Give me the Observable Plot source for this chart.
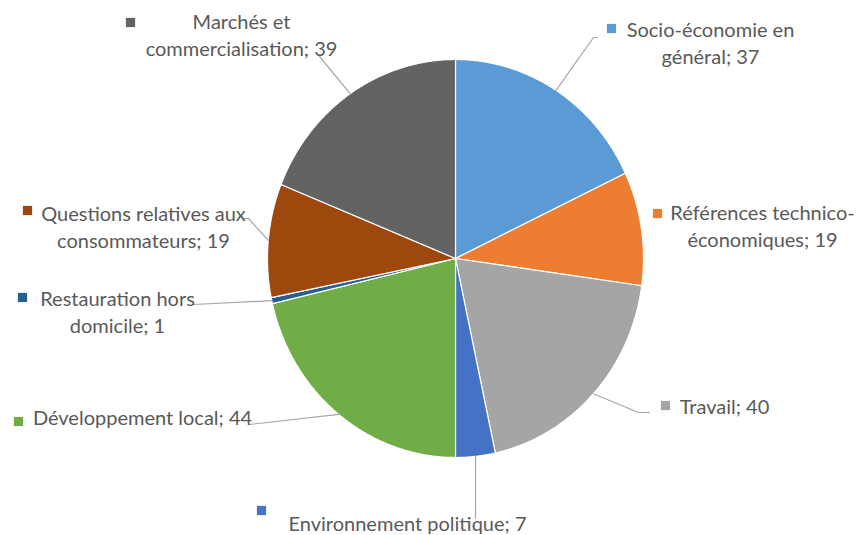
<!DOCTYPE html>
<html><head><meta charset="utf-8">
<script src="https://cdn.jsdelivr.net/npm/d3@7"></script>
<script src="https://cdn.jsdelivr.net/npm/@observablehq/plot@0.6"></script>
<style>body{margin:0;background:#fff}</style>
</head><body><div id="chart"></div>
<script>
// ---- data ----
const categories = ["Socio-économie en général", "Références technico-économiques", "Travail", "Environnement politique", "Développement local", "Restauration hors domicile", "Questions relatives aux consommateurs", "Marchés et commercialisation"];
const values = [37, 19, 40, 7, 44, 1, 19, 39];
const labelLines = [["Socio-économie en", "général"], ["Références technico-", "économiques"], ["Travail"], ["Environnement politique"], ["Développement local"], ["Restauration hors", "domicile"], ["Questions relatives aux", "consommateurs"], ["Marchés et", "commercialisation"]];
const colors = ["#5B9BD5", "#ED7D31", "#A5A5A5", "#4472C4", "#70AD47", "#255E91", "#9E480E", "#636363"];

// ---- layout (pixels) ----
const W = 857, H = 535, CX = 455, CY = 258, RX = 188, RY = 199;
const FS = 20, LH = 1.33;
const labelLayout = [
  {tx: 710, ty: 63, mx: 611, my: 28, elbow: [[593, 37], [597, 37]]},
  {tx: 762, ty: 246, mx: 657, my: 213, elbow: []},
  {tx: 724, ty: 413, mx: 665, my: 405, elbow: [[638, 412], [649, 412]]},
  {tx: 407, ty: 530, mx: 261, my: 510, elbow: [[475, 518]]},
  {tx: 142, ty: 424, mx: 18, my: 421, elbow: [[249, 424]]},
  {tx: 117, ty: 332, mx: 22, my: 297, elbow: [[193, 304]]},
  {tx: 143, ty: 247, mx: 27, my: 210, elbow: [[248, 218], [244, 218]]},
  {tx: 241, ty: 55, mx: 130, my: 22, elbow: [[319, 56]]}
];
const toX = px => (px - CX) / RX;
const toY = py => (CY - py) / RY;

// ---- slices ----
const total = d3.sum(values);
let acc = 0;
const slicePts = [], leaderPts = [], markers = [], labels = [];
categories.forEach((cat, i) => {
  const a0 = acc / total * 2 * Math.PI;
  acc += values[i];
  const a1 = acc / total * 2 * Math.PI;
  const n = Math.max(2, Math.ceil((a1 - a0) / (Math.PI / 360)));
  slicePts.push({cat, x: 0, y: 0});
  for (let k = 0; k <= n; k++) {
    const t = a0 + (a1 - a0) * k / n;
    slicePts.push({cat, x: Math.sin(t), y: Math.cos(t)});
  }
  slicePts.push({cat, x: 0, y: 0});
  const mid = (a0 + a1) / 2;
  const L = labelLayout[i];
  if (L.elbow.length) {
    leaderPts.push({cat, x: Math.sin(mid), y: Math.cos(mid)});
    L.elbow.forEach(([px, py]) => leaderPts.push({cat, x: toX(px), y: toY(py)}));
  }
  markers.push({cat, x: toX(L.mx), y: toY(L.my)});
  const lines = labelLines[i].slice();
  lines[lines.length - 1] += "; " + values[i];
  labels.push({cat, x: toX(L.tx), y: toY(L.ty), text: lines.join("\n")});
});

const chart = Plot.plot({
  width: W, height: H,
  marginLeft: CX - RX, marginRight: W - (CX + RX),
  marginTop: CY - RY, marginBottom: H - (CY + RY),
  x: {domain: [-1, 1], axis: null},
  y: {domain: [-1, 1], axis: null},
  color: {domain: categories, range: colors},
  style: {fontFamily: "Lato, sans-serif", background: "#fff", color: "#595959"},
  marks: [
    Plot.line(slicePts, {x: "x", y: "y", z: "cat", fill: "cat", stroke: "#ffffff", strokeWidth: 1.2, curve: "linear"}),
    Plot.line(leaderPts, {x: "x", y: "y", z: "cat", stroke: "#A6A6A6", strokeWidth: 1.2}),
    Plot.dot(markers, {x: "x", y: "y", fill: "cat", symbol: "square", r: 5.2}),
    Plot.text(labels, {x: "x", y: "y", text: "text", fill: "#595959", fontSize: FS, lineAnchor: "bottom", lineHeight: LH, textAnchor: "middle"})
  ]
});
document.getElementById("chart").append(chart);
</script>
</body></html>
